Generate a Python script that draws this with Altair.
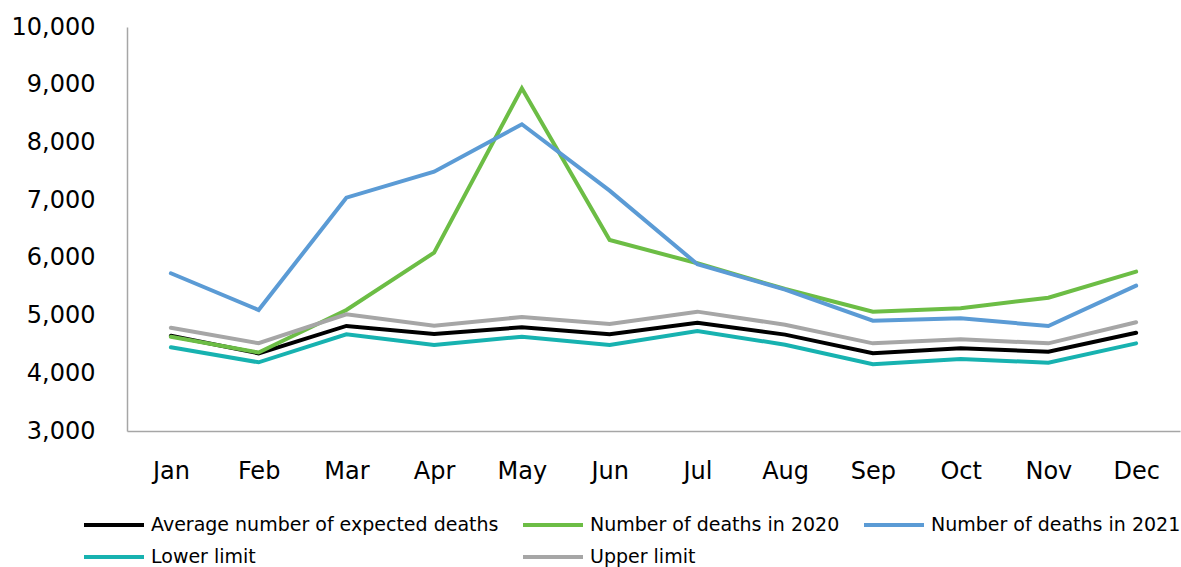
import altair as alt
import pandas as pd

months = ["Jan", "Feb", "Mar", "Apr", "May", "Jun", "Jul", "Aug", "Sep", "Oct", "Nov", "Dec"]
average = [4650, 4346, 4820, 4681, 4797, 4676, 4877, 4670, 4346, 4433, 4375, 4703]
deaths_2020 = [4634, 4360, 5097, 6090, 8938, 6310, 5906, 5460, 5068, 5126, 5310, 5761]
deaths_2021 = [5733, 5097, 7043, 7493, 8315, 7164, 5890, 5450, 4911, 4953, 4819, 5518]
lower = [4450, 4190, 4675, 4490, 4634, 4490, 4733, 4495, 4156, 4248, 4184, 4519]
upper = [4790, 4520, 5022, 4825, 4975, 4854, 5068, 4840, 4519, 4589, 4519, 4884]

series_names = ["Average number of expected deaths", "Number of deaths in 2020",
                "Number of deaths in 2021", "Lower limit", "Upper limit"]
series_values = [average, deaths_2020, deaths_2021, lower, upper]
colors = ["#000000", "#6CBD45", "#5B9BD5", "#17B2B0", "#A6A6A6"]

rows = []
for k, (name, vals) in enumerate(zip(series_names, series_values)):
    for m, v in zip(months, vals):
        rows.append({"Month": m, "Series": name, "Value": v, "k": k})
df = pd.DataFrame(rows)

FONT = "DejaVu Sans"

chart = alt.Chart(df).mark_line(strokeWidth=4, strokeCap="round", strokeJoin="miter").encode(
    x=alt.X("Month:N", sort=months, title=None,
            scale=alt.Scale(type="point", padding=0.5),
            axis=alt.Axis(labelAngle=0, ticks=False, labelFontSize=24, labelPadding=28,
                          domainColor="#A6A6A6", domainWidth=1.5, labelColor="#000000",
                          labelFont=FONT, grid=False)),
    y=alt.Y("Value:Q", title=None,
            scale=alt.Scale(domain=[3000, 10000], nice=False, zero=False),
            axis=alt.Axis(values=[3000, 4000, 5000, 6000, 7000, 8000, 9000, 10000],
                          format=",.0f", ticks=False, labelFontSize=24, labelPadding=32,
                          domainColor="#A6A6A6", domainWidth=1.5, labelColor="#000000",
                          labelFont=FONT, grid=False)),
    color=alt.Color("Series:N", sort=series_names,
                    scale=alt.Scale(domain=series_names, range=colors),
                    legend=alt.Legend(title=None, orient="none", legendX=-30, legendY=481,
                                      columns=3, symbolType="M-2,0H2", symbolSize=900,
                                      symbolStrokeWidth=4, labelFontSize=19, labelFont=FONT,
                                      labelColor="#000000", columnPadding=16, rowPadding=5,
                                      labelLimit=400, labelOffset=20, direction="horizontal")),
    order=alt.Order("k:Q"),
).properties(
    width=1053, height=404,
    autosize=alt.AutoSizeParams(type="none"),
    padding={"left": 127, "top": 27, "right": 1, "bottom": 136},
).configure_view(stroke=None)

chart.save("out.html", embed_options={"renderer": "svg", "actions": False})
